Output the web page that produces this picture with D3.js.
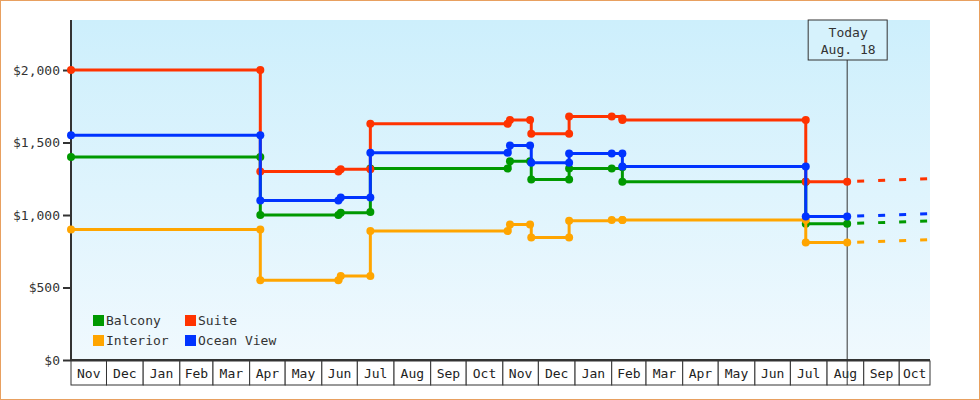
<!DOCTYPE html>
<html>
<head>
<meta charset="utf-8">
<script src="https://cdn.jsdelivr.net/npm/d3@7"></script>
<style>
  body { margin: 0; background: #fff; }
  svg { display: block; font-family: "DejaVu Sans Mono", monospace; }
</style>
</head>
<body>
<svg id="chart"></svg>
<script>
const seriesNames = ["Balcony", "Suite", "Interior", "Ocean View"];
const seriesColors = ["#009900", "#ff3300", "#ffa500", "#0033ff"];
const yTicks = [0, 500, 1000, 1500, 2000];
const todayDate = "2024-08-18";
const todayLabel = ["Today", "Aug. 18"];

const dates = ["2022-11-01", "2023-04-10", "2023-04-10", "2023-06-15", "2023-06-17", "2023-07-12", "2023-07-12",
  "2023-11-05", "2023-11-07", "2023-11-24", "2023-11-25", "2023-12-27", "2023-12-27", "2024-02-01",
  "2024-02-10", "2024-02-10", "2024-07-14", "2024-07-14", "2024-08-18"];
const balcony   = [1400, 1400, 1000, 1000, 1015, 1020, 1320, 1320, 1370, 1370, 1245, 1245, 1320, 1320, 1330, 1230, 1230, 940, 940];
const suite     = [2000, 2000, 1300, 1300, 1315, 1315, 1630, 1630, 1655, 1655, 1560, 1560, 1680, 1680, 1665, 1655, 1655, 1230, 1230];
const interior  = [900, 900, 550, 550, 580, 580, 890, 890, 935, 935, 845, 845, 960, 965, 965, 965, 965, 810, 810];
const oceanView = [1550, 1550, 1100, 1100, 1120, 1120, 1430, 1430, 1480, 1480, 1360, 1360, 1425, 1425, 1425, 1335, 1335, 990, 990];
const forecastEnd = "2024-10-27";
const forecastValues = [960, 1250, 830, 1010];

const W = 980, H = 400;
const m = { left: 71, right: 50, top: 20, bottom: 40 };
const parse = d3.timeParse("%Y-%m-%d");
const svg = d3.select("#chart").attr("width", W).attr("height", H);

const x = d3.scaleTime().domain([parse(dates[0]), parse(forecastEnd)]).range([m.left, W - m.right]);
const y = d3.scaleLinear().domain([0, 2345]).range([H - m.bottom, m.top]);

// frame
svg.append("rect").attr("x", 0.5).attr("y", 0.5).attr("width", W - 1).attr("height", H - 1)
  .attr("fill", "#fff").attr("stroke", "#e8a060");

const grad = svg.append("defs").append("linearGradient").attr("id", "bg")
  .attr("x1", 0).attr("y1", 0).attr("x2", 0).attr("y2", 1);
grad.append("stop").attr("offset", 0).attr("stop-color", "#cdeffc");
grad.append("stop").attr("offset", 1).attr("stop-color", "#f0f9fe");
svg.append("rect").attr("x", m.left).attr("y", m.top)
  .attr("width", W - m.right - m.left).attr("height", H - m.bottom - m.top).attr("fill", "url(#bg)");

// y axis
const yAxis = svg.append("g").attr("transform", `translate(${m.left},0)`)
  .call(d3.axisLeft(y).tickValues(yTicks).tickSize(8).tickFormat(d => "$" + d3.format(",")(d)));
yAxis.select(".domain").remove();
yAxis.selectAll("line").attr("stroke", "#333").attr("stroke-width", 2);
yAxis.selectAll("text").attr("font-size", 13).attr("fill", "#333").attr("font-family", "DejaVu Sans Mono");
svg.append("line").attr("x1", m.left).attr("x2", m.left).attr("y1", m.top).attr("y2", y(0))
  .attr("stroke", "#333").attr("stroke-width", 2);

// month cells
const months = d3.timeMonth.range(parse(dates[0]), parse(forecastEnd));
const axisY = y(0);
const cells = svg.append("g");
months.forEach(d => {
  const x0 = x(d), x1 = Math.min(x(d3.timeMonth.offset(d, 1)), W - m.right);
  cells.append("rect").attr("x", x0).attr("y", axisY + 1).attr("width", x1 - x0).attr("height", 24)
    .attr("fill", "#fff").attr("stroke", "#333");
  cells.append("text").attr("x", (x0 + x1) / 2).attr("y", axisY + 18).attr("text-anchor", "middle")
    .attr("font-size", 13).attr("fill", "#222").text(d3.timeFormat("%b")(d));
});
svg.append("line").attr("x1", m.left).attr("x2", W - m.right).attr("y1", axisY).attr("y2", axisY)
  .attr("stroke", "#333").attr("stroke-width", 2);

// today marker
const tx = x(parse(todayDate));
svg.append("line").attr("x1", tx).attr("x2", tx).attr("y1", 60).attr("y2", axisY + 25).attr("stroke", "#333");
svg.append("rect").attr("x", tx - 39).attr("y", 20).attr("width", 79).attr("height", 40)
  .attr("fill", "#d6f2fc").attr("stroke", "#333");
todayLabel.forEach((t, i) => svg.append("text").attr("x", tx + 1).attr("y", 37 + i * 17)
  .attr("text-anchor", "middle").attr("font-size", 13).attr("fill", "#333").text(t));

// series
const allValues = [balcony, suite, interior, oceanView];
const line = d3.line().x(d => x(d[0])).y(d => y(d[1])).curve(d3.curveStepAfter);
allValues.forEach((vals, i) => {
  const pts = dates.map((d, j) => [parse(d), vals[j]]);
  svg.append("path").datum(pts).attr("d", line).attr("fill", "none")
    .attr("stroke", seriesColors[i]).attr("stroke-width", 3);
  svg.selectAll(null).data(pts).enter().append("circle")
    .attr("cx", d => x(d[0])).attr("cy", d => y(d[1])).attr("r", 4).attr("fill", seriesColors[i]);
  const last = pts[pts.length - 1];
  svg.append("path").datum([last, [parse(forecastEnd), forecastValues[i]]])
    .attr("d", d3.line().x(d => x(d[0])).y(d => y(d[1]))).attr("fill", "none")
    .attr("stroke", seriesColors[i]).attr("stroke-width", 3).attr("stroke-dasharray", "0,10,7,4");
});

// legend
const legend = svg.append("g");
seriesNames.forEach((n, i) => {
  const lx = 93 + (i % 2) * 92, ly = 315 + Math.floor(i / 2) * 20;
  legend.append("rect").attr("x", lx).attr("y", ly).attr("width", 11).attr("height", 11).attr("fill", seriesColors[i]);
  legend.append("text").attr("x", lx + 13).attr("y", ly + 10).attr("font-size", 13).attr("fill", "#333").text(n);
});
</script>
</body>
</html>
